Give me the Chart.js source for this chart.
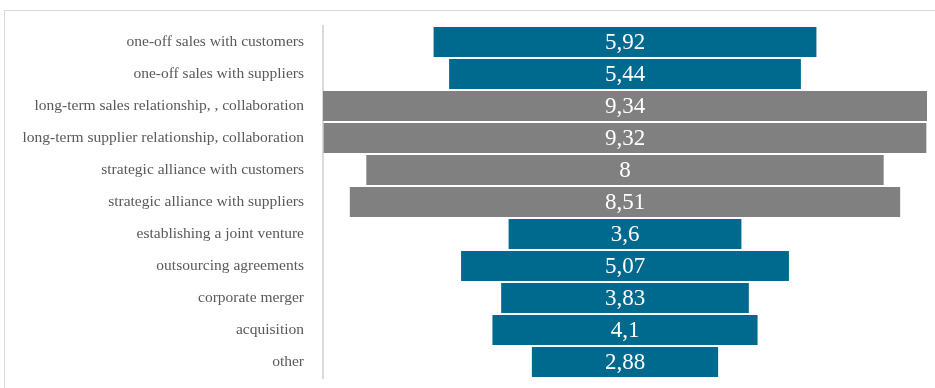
<!DOCTYPE html>
<html>
<head>
<meta charset="utf-8">
<script src="https://cdn.jsdelivr.net/npm/chart.js@4"></script>
<style>
  html, body { margin: 0; padding: 0; background: #fff; }
  #frame { position: absolute; left: 4px; top: 10px; width: 940px; height: 390px; border: 1px solid #d9d9d9; }
  #wrap { position: absolute; left: 0; top: 0; width: 935px; height: 388px; }
</style>
</head>
<body>
<div id="frame"></div>
<div id="wrap"><canvas id="chart" width="935" height="388"></canvas></div>
<script>
// Funnel-style chart: each bar is centred on zero
const categories = [
  'one-off sales with customers',
  'one-off sales with suppliers',
  'long-term sales relationship, , collaboration',
  'long-term supplier relationship, collaboration',
  'strategic alliance with customers',
  'strategic alliance with suppliers',
  'establishing a joint venture',
  'outsourcing agreements',
  'corporate merger',
  'acquisition',
  'other'
];
const values = [5.92, 5.44, 9.34, 9.32, 8, 8.51, 3.6, 5.07, 3.83, 4.1, 2.88];
const longTermRows = [2, 3, 4, 5]; // drawn in grey

const BLUE = '#006a8e';
const GREY = '#808080';
const FONT = '"Liberation Serif", "DejaVu Serif", serif';

function fmt(v){ return String(v).replace('.', ','); }

// value labels in the middle of each bar
const centreLabels = {
  id: 'centreLabels',
  afterDatasetsDraw(chart){
    const ctx = chart.ctx;
    const meta = chart.getDatasetMeta(0);
    ctx.save();
    ctx.fillStyle = '#ffffff';
    ctx.font = '23px ' + FONT;
    ctx.textAlign = 'center';
    ctx.textBaseline = 'middle';
    meta.data.forEach((bar, i) => {
      const x = chart.scales.x.getPixelForValue(0);
      ctx.fillText(fmt(values[i]), x, bar.y + 1);
    });
    ctx.restore();
  }
};

const half = Math.max(...values) / 2;

new Chart(document.getElementById('chart'), {
  type: 'bar',
  data: {
    labels: categories,
    datasets: [{
      data: values.map(v => [-v / 2, v / 2]),
      backgroundColor: values.map((v, i) => longTermRows.includes(i) ? GREY : BLUE),
      borderWidth: 0,
      barPercentage: 0.94,
      categoryPercentage: 1
    }]
  },
  options: {
    indexAxis: 'y',
    responsive: false,
    animation: false,
    layout: { padding: { left: 0, right: 8, top: 26, bottom: 10 } },
    plugins: { legend: { display: false }, tooltip: { enabled: false } },
    scales: {
      x: { display: false, min: -half, max: half },
      y: {
        grid: { display: false },
        border: { display: true, color: '#d9d9d9', width: 2 },
        ticks: { color: '#595959', font: { family: FONT, size: 15.5 }, padding: 11 },
        afterFit(scale){
          scale.width = 323;
          // tick padding would otherwise be added above and below the axis
          scale.paddingTop = 0;
          scale.paddingBottom = 0;
        }
      }
    }
  },
  plugins: [centreLabels]
});
</script>
</body>
</html>
